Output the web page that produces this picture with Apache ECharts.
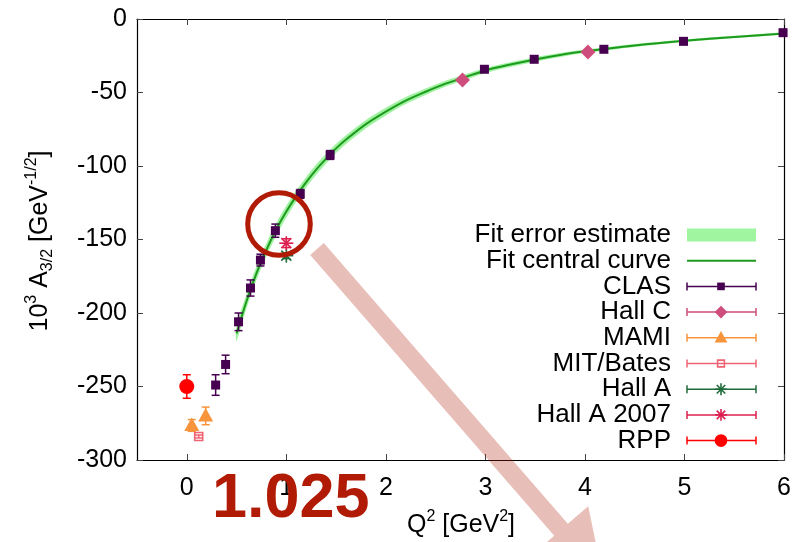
<!DOCTYPE html>
<html><head><meta charset="utf-8">
<script src="https://cdn.jsdelivr.net/npm/echarts@6/dist/echarts.min.js"></script>
<style>html,body{margin:0;padding:0;background:#fff}#c{width:794px;height:542px}</style>
</head><body><div id="c"></div>
<script>
// ---- tick labels ----
const xTicks = [0, 1, 2, 3, 4, 5, 6];
const yMin = -300, yMax = 0, yStep = 50;

// ---- fit curve ----
const fitX   = [0.5, 0.6, 0.7, 0.8, 0.9, 1.0, 1.1, 1.2, 1.3, 1.4, 1.5, 1.6, 1.8, 2.0, 2.2, 2.4, 2.6, 2.8, 3.0, 3.25, 3.5, 3.75, 4.0, 4.5, 5.0, 5.5, 6.0];
const fitY   = [-214, -192, -173, -157, -143, -131, -120.5, -111, -102.5, -95, -88, -82, -71.5, -63, -55.5, -49.5, -44, -39.5, -35, -31, -27.5, -24.5, -22, -18, -14.8, -12.2, -9.8];
const fitErr = [5.0, 4.8, 4.6, 4.4, 4.2, 4.0, 3.8, 3.6, 3.5, 3.3, 3.2, 3.0, 2.8, 2.6, 2.4, 2.2, 2.0, 1.9, 1.7, 1.6, 1.5, 1.35, 1.2, 1.05, 0.9, 0.8, 0.7];

// ---- data sets ----
const clasX = [0.29, 0.39, 0.52, 0.64, 0.74, 0.89, 1.14, 1.44, 2.99, 3.49, 4.19, 4.99, 5.99];
const clasY = [-249, -235, -206, -183, -164, -144, -119, -92.5, -34.2, -27.4, -20.6, -15.2, -9.3];
const clasE = [7, 6.3, 6, 5.5, 4, 4.5, 3, 3, 1, 1, 1, 1, 1];

const hallCX = [2.77, 4.03];
const hallCY = [-41.5, -22.4];
const hallCE = [1, 1];

const mamiX = [0.05, 0.19];
const mamiY = [-276.5, -270];
const mamiE = [4, 6];

const mitX = [0.12];
const mitY = [-284];
const mitE = [1];

const hallAX = [1.0];
const hallAY = [-161];
const hallAE = [2];

const hallA07X = [1.0];
const hallA07Y = [-152.5];
const hallA07E = [3];

const rppX = [0.0];
const rppY = [-250];
const rppE = [8];

const FONT = '"Liberation Sans", Arial, Helvetica, sans-serif';

const C = {
  clas: '#46004f', hallC: '#cf4d7c', mami: '#f7943c', mit: '#ef6474',
  hallA: '#1f6b3a', hallA07: '#dc1f4f', rpp: '#ff0000',
  band: '#9ff29f', fit: '#1e9a1e', annot: '#b11a05'
};

function marker(shape, cx, cy, color, s) {
  s = s || 1;
  switch (shape) {
    case 'square': return [{type:'rect', shape:{x:cx-4.5*s, y:cy-4.5*s, width:9*s, height:9*s}, style:{fill:color}}];
    case 'diamond': return [{type:'polygon', shape:{points:[[cx,cy-7.5*s],[cx+7.5*s,cy],[cx,cy+7.5*s],[cx-7.5*s,cy]]}, style:{fill:color}}];
    case 'triangle': return [{type:'polygon', shape:{points:[[cx,cy-8*s],[cx+7.5*s,cy+5.5*s],[cx-7.5*s,cy+5.5*s]]}, style:{fill:color}}];
    case 'opensq': return [{type:'rect', shape:{x:cx-4*s, y:cy-4*s, width:8*s, height:8*s}, style:{fill:'none', stroke:color, lineWidth:1.6}}];
    case 'star': {
      const r = 7*s, q = 5*s; const st = {stroke:color, lineWidth:1.6};
      return [
        {type:'line', shape:{x1:cx-r,y1:cy,x2:cx+r,y2:cy}, style:st},
        {type:'line', shape:{x1:cx,y1:cy-r,x2:cx,y2:cy+r}, style:st},
        {type:'line', shape:{x1:cx-q,y1:cy-q,x2:cx+q,y2:cy+q}, style:st},
        {type:'line', shape:{x1:cx-q,y1:cy+q,x2:cx+q,y2:cy-q}, style:st}
      ];
    }
    case 'circle': return [{type:'circle', shape:{cx:cx, cy:cy, r:7.5*s}, style:{fill:color}}];
  }
  return [];
}

function errSeries(name, X, Y, E, color, shape) {
  return {
    type: 'custom', name: name, z: 5,
    data: X.map((x, i) => [x, Y[i], E[i]]),
    encode: {x: 0, y: 1},
    renderItem: function (params, api) {
      const x = api.value(0), y = api.value(1), e = api.value(2);
      const c = api.coord([x, y]);
      const t = api.coord([x, y + e]);
      const b = api.coord([x, y - e]);
      const st = {stroke: color, lineWidth: 1.5};
      const ch = [
        {type:'line', shape:{x1:c[0], y1:t[1], x2:c[0], y2:b[1]}, style:st},
        {type:'line', shape:{x1:c[0]-4, y1:t[1], x2:c[0]+4, y2:t[1]}, style:st},
        {type:'line', shape:{x1:c[0]-4, y1:b[1], x2:c[0]+4, y2:b[1]}, style:st}
      ].concat(marker(shape, c[0], c[1], color));
      return {type: 'group', children: ch};
    }
  };
}

// band polygon through the axes' scale
const bandSeries = {
  type: 'custom', name: 'Fit error estimate', z: 2,
  data: [[fitX[0], fitY[0]]],
  encode: {x: 0, y: 1},
  renderItem: function (params, api) {
    const up = fitX.map((x, i) => api.coord([x, fitY[i] + fitErr[i]]));
    const lo = fitX.map((x, i) => api.coord([x, fitY[i] - fitErr[i]])).reverse();
    return {type: 'polygon', shape: {points: up.concat(lo), smooth: 0.3}, style: {fill: C.band}};
  }
};

const fitSeries = {
  type: 'line', name: 'Fit central curve', z: 3,
  data: fitX.map((x, i) => [x, fitY[i]]),
  smooth: 0.3, showSymbol: false, symbol: 'none',
  lineStyle: {color: C.fit, width: 2}
};

// legend rows (drawn as graphics)
const legendRows = [
  {name:'Fit error estimate', kind:'band'},
  {name:'Fit central curve', kind:'line'},
  {name:'CLAS', color:C.clas, shape:'square'},
  {name:'Hall C', color:C.hallC, shape:'diamond'},
  {name:'MAMI', color:C.mami, shape:'triangle'},
  {name:'MIT/Bates', color:C.mit, shape:'opensq'},
  {name:'Hall A', color:C.hallA, shape:'star'},
  {name:'Hall A 2007', color:C.hallA07, shape:'star'},
  {name:'RPP', color:C.rpp, shape:'circle'}
];
const legendEls = [];
const lx0 = 687, lx1 = 756, lmx = 721, ltx = 671, ly0 = 235, ldy = 25.7;
legendRows.forEach((r, i) => {
  const y = ly0 + i * ldy;
  legendEls.push({type:'text', x: ltx, y: y, z: 50,
    style:{text: r.name, font: '26px ' + FONT, fill:'#000', align:'right', verticalAlign:'middle', textAlign:'right', textVerticalAlign:'middle'}});
  if (r.kind === 'band') {
    legendEls.push({type:'rect', z:50, shape:{x:lx0, y:y-6.5, width:lx1-lx0, height:13}, style:{fill:'#a0f6a0'}});
  } else if (r.kind === 'line') {
    legendEls.push({type:'line', z:50, shape:{x1:lx0, y1:y, x2:lx1, y2:y}, style:{stroke:C.fit, lineWidth:2}});
  } else {
    const st = {stroke: r.color, lineWidth: 1.5};
    legendEls.push({type:'line', z:50, shape:{x1:lx0, y1:y, x2:lx1, y2:y}, style:st});
    legendEls.push({type:'line', z:50, shape:{x1:lx0, y1:y-4, x2:lx0, y2:y+4}, style:st});
    legendEls.push({type:'line', z:50, shape:{x1:lx1, y1:y-4, x2:lx1, y2:y+4}, style:st});
    marker(r.shape, lmx, y, r.color, 0.85).forEach(m => { m.z = 51; legendEls.push(m); });
  }
});

// arrow annotation geometry
const ang = 49 * Math.PI / 180;
const d = [Math.cos(ang), Math.sin(ang)], n = [Math.sin(ang), -Math.cos(ang)];
const S = [317, 249], hw = 9, L = 372, hh = 36, hl = 64;
const P = (a, b) => [S[0] + d[0]*a + n[0]*b, S[1] + d[1]*a + n[1]*b];
const arrowPts = [P(0, hw), P(L, hw), P(L, hh), P(L+hl, 0), P(L, -hh), P(L, -hw), P(0, -hw)];

const chart = echarts.init(document.getElementById('c'), null, {renderer: 'canvas'});
const axisCommon = {
  axisLine: {show: true, onZero: false, lineStyle: {color: '#000', width: 1.2}},
  axisTick: {show: true, inside: true, length: 6, lineStyle: {color: '#444', width: 1}},
  splitLine: {show: false}
};
chart.setOption({
  animation: false,
  backgroundColor: '#fff',
  grid: {left: 137, right: 7, top: 19, bottom: 82, containLabel: false},
  xAxis: [
    Object.assign({type: 'value', min: -0.5, max: 6, position: 'bottom',
      axisLabel: {customValues: xTicks, fontSize: 25, fontFamily: FONT, color: '#000', margin: 16}},
      axisCommon, {axisTick: Object.assign({}, axisCommon.axisTick, {customValues: xTicks})}),
    Object.assign({type: 'value', min: -0.5, max: 6, position: 'top',
      axisLabel: {show: false}}, axisCommon,
      {axisTick: Object.assign({}, axisCommon.axisTick, {customValues: xTicks})})
  ],
  yAxis: [
    Object.assign({type: 'value', min: yMin, max: yMax, interval: yStep, position: 'left',
      axisLabel: {fontSize: 25, fontFamily: FONT, color: '#000', margin: 10}}, axisCommon),
    Object.assign({type: 'value', min: yMin, max: yMax, interval: yStep, position: 'right',
      axisLabel: {show: false}}, axisCommon)
  ],
  series: [
    bandSeries,
    fitSeries,
    errSeries('CLAS', clasX, clasY, clasE, C.clas, 'square'),
    errSeries('Hall C', hallCX, hallCY, hallCE, C.hallC, 'diamond'),
    errSeries('MAMI', mamiX, mamiY, mamiE, C.mami, 'triangle'),
    errSeries('MIT/Bates', mitX, mitY, mitE, C.mit, 'opensq'),
    errSeries('Hall A', hallAX, hallAY, hallAE, C.hallA, 'star'),
    errSeries('Hall A 2007', hallA07X, hallA07Y, hallA07E, C.hallA07, 'star'),
    errSeries('RPP', rppX, rppY, rppE, C.rpp, 'circle')
  ],
  graphic: {elements: legendEls.concat([
    {type:'text', x: 40, y: 241, rotation: Math.PI/2, z: 50,
      style:{text:'{m|10}{sp|3}{m| A}{sb|3/2}{m| [GeV}{sp|-1/2}{m|]}', align:'center', verticalAlign:'middle', textAlign:'center', textVerticalAlign:'middle',
        rich:{m:{font:'25px ' + FONT, fill:'#000', lineHeight:32, verticalAlign:'middle'},
              sp:{font:'16px ' + FONT, fill:'#000', lineHeight:15, verticalAlign:'top'},
              sb:{font:'16px ' + FONT, fill:'#000', lineHeight:15, verticalAlign:'bottom'}}}},
    {type:'text', x: 461, y: 525, z: 50,
      style:{text:'{m|Q}{sp|2}{m| [GeV}{sp|2}{m|]}', align:'center', verticalAlign:'middle', textAlign:'center', textVerticalAlign:'middle',
        rich:{m:{font:'25px ' + FONT, fill:'#000', lineHeight:32, verticalAlign:'middle'},
              sp:{font:'16px ' + FONT, fill:'#000', lineHeight:15, verticalAlign:'top'}}}},
    {type:'polygon', z: 60, shape:{points: arrowPts}, style:{fill:'rgba(176,30,10,0.29)'}},
    {type:'circle', z: 70, shape:{cx: 279, cy: 224, r: 31.3}, style:{fill:'none', stroke: C.annot, lineWidth: 5}},
    {type:'text', x: 212, y: 500, z: 80,
      style:{text:'1.025', font:'bold 63px ' + FONT, fill: C.annot, align:'left', verticalAlign:'middle', textAlign:'left', textVerticalAlign:'middle'}}
  ])}
});
</script></body></html>
